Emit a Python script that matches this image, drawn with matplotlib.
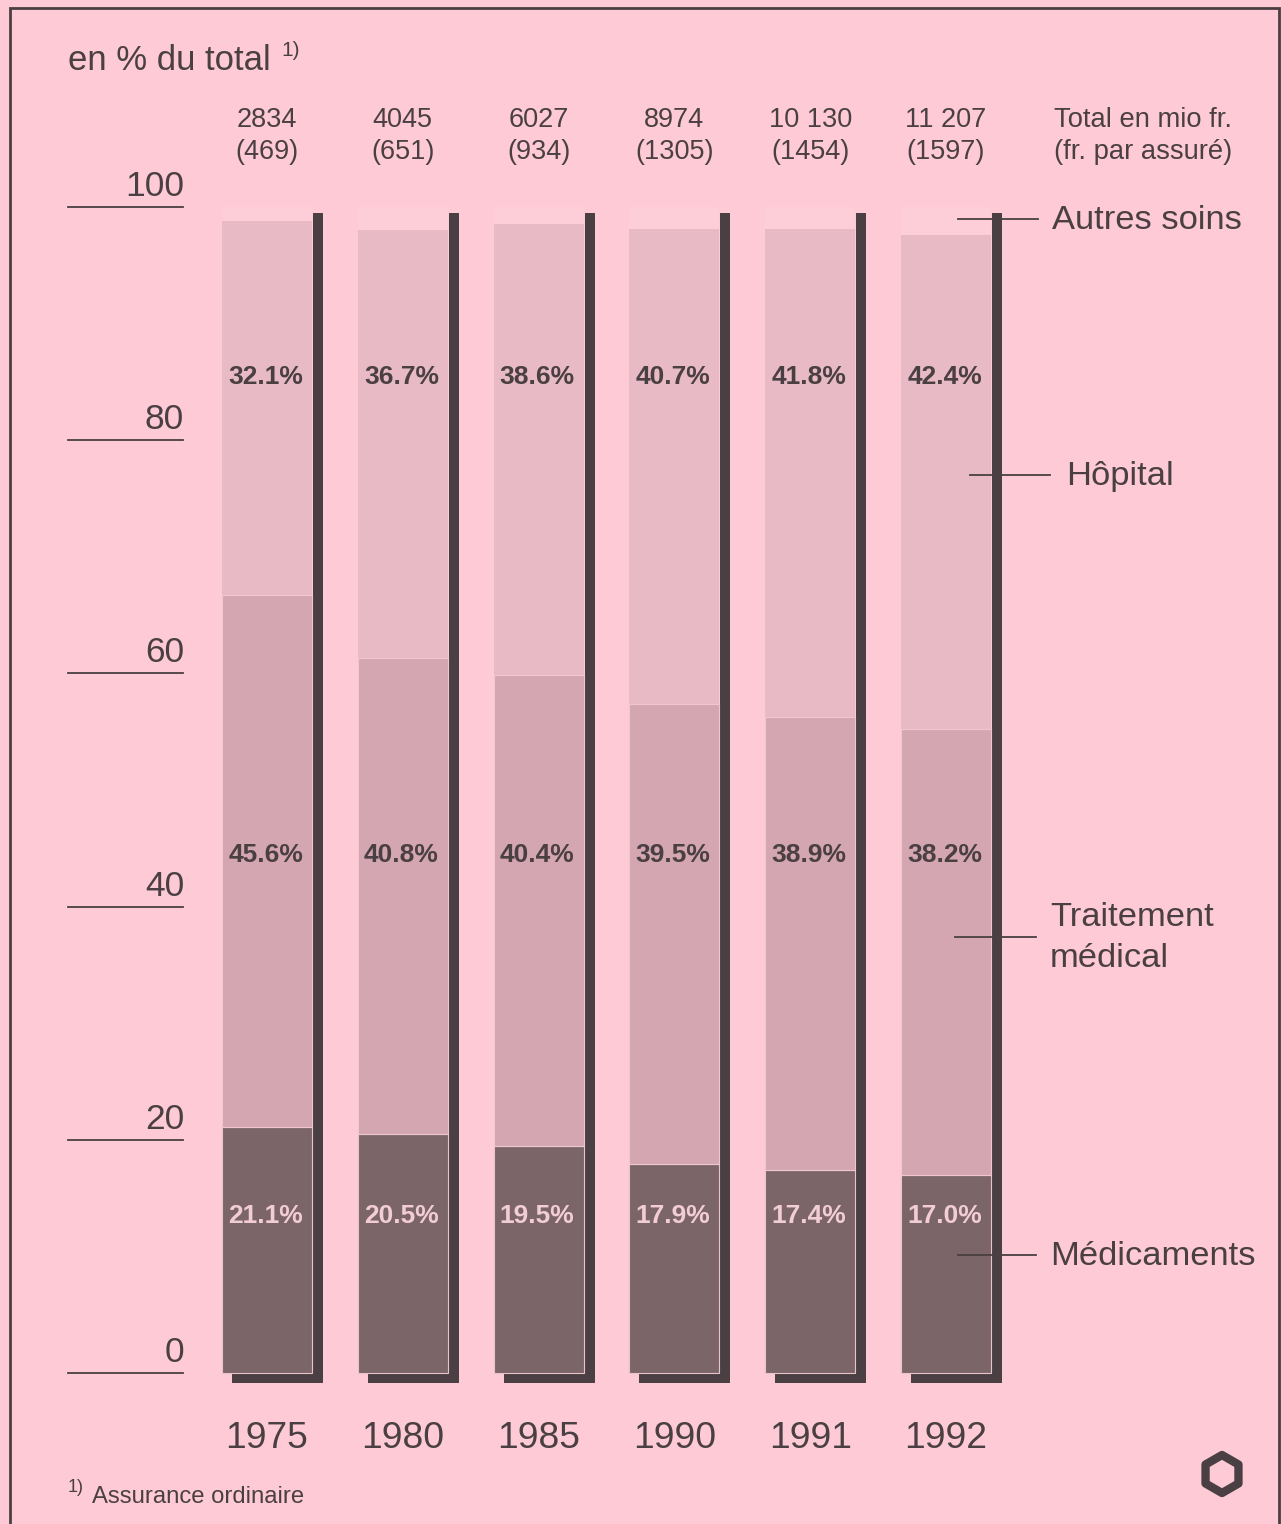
import matplotlib
matplotlib.use("Agg")
import matplotlib.pyplot as plt
from matplotlib.patches import Rectangle, Polygon
import numpy as np

plt.rcParams['font.family'] = ['Liberation Sans', 'DejaVu Sans']

# ---- data ----
years = ["1975", "1980", "1985", "1990", "1991", "1992"]
medicaments = [21.1, 20.5, 19.5, 17.9, 17.4, 17.0]
traitement = [45.6, 40.8, 40.4, 39.5, 38.9, 38.2]
hopital = [32.1, 36.7, 38.6, 40.7, 41.8, 42.4]
autres = [1.2, 2.0, 1.5, 1.9, 1.9, 2.4]
totals = ["2834", "4045", "6027", "8974", "10 130", "11 207"]
per_insured = ["(469)", "(651)", "(934)", "(1305)", "(1454)", "(1597)"]
yticks = [0, 20, 40, 60, 80, 100]
series_names = ["Médicaments", "Traitement\nmédical", "Hôpital", "Autres soins"]

# ---- style ----
BG = "#fdcad5"
C_MED = "#7b6568"
C_TRT = "#d3a6b1"
C_HOP = "#e8bac5"
C_AUT = "#fdced8"
DARK = "#4a3f42"

W, H = 1281, 1524
fig = plt.figure(figsize=(W / 100, H / 100), dpi=100, facecolor=BG)
ax = fig.add_axes([0, 0, 1, 1])
ax.set_facecolor(BG)
ax.axis("off")

# pixel mapping: x index 0 -> 267 px, step 135.8 px ; y 0 -> 1373 px from top, 100 -> 207
sx = 135.8
sy = (1373 - 207) / 100.0
ax.set_xlim(-267 / sx, (W - 267) / sx)
ax.set_ylim(-(H - 1373) / sy, 1373 / sy)

x = list(range(len(years)))
bw = 90 / sx
sh_w = 10 / sx
sh_h = 10 / sy

# shadows
for i in x:
    ax.add_patch(Rectangle((i + bw / 2 + 1 / sx, -sh_h), sh_w, 99.5 + sh_h,
                           facecolor=DARK, edgecolor="none", zorder=1))
    ax.add_patch(Rectangle((i - bw / 2 + 10 / sx, -sh_h), bw + 1 / sx, sh_h,
                           facecolor=DARK, edgecolor="none", zorder=1))

b1 = [m for m in medicaments]
b2 = [m + t for m, t in zip(medicaments, traitement)]
b3 = [m + t + h for m, t, h in zip(medicaments, traitement, hopital)]
ax.bar(x, medicaments, width=bw, color=C_MED, edgecolor="#e9c3cc", linewidth=0.8, zorder=2)
ax.bar(x, traitement, width=bw, bottom=b1, color=C_TRT, edgecolor="#f0c6d0", linewidth=0.8, zorder=2)
ax.bar(x, hopital, width=bw, bottom=b2, color=C_HOP, edgecolor="none", zorder=2)
ax.bar(x, autres, width=bw, bottom=b3, color=C_AUT, edgecolor="none", zorder=2)

# percentage labels
for i in x:
    ax.text(i - 0.01, (1373 - 377) / sy, f"{hopital[i]:.1f}%", ha="center", va="center",
            fontsize=19, fontweight="bold", color=DARK, zorder=3)
    ax.text(i - 0.01, (1373 - 855) / sy, f"{traitement[i]:.1f}%", ha="center", va="center",
            fontsize=19, fontweight="bold", color=DARK, zorder=3)
    ax.text(i - 0.01, (1373 - 1216) / sy, f"{medicaments[i]:.1f}%", ha="center", va="center",
            fontsize=19, fontweight="bold", color="#f3cdd6", zorder=3)
    ax.text(i, (1373 - 120) / sy, totals[i], ha="center", va="center", fontsize=19.5, color=DARK)
    ax.text(i, (1373 - 152) / sy, per_insured[i], ha="center", va="center", fontsize=19.5, color=DARK)
    ax.text(i, (1373 - 1438) / sy, years[i], ha="center", va="center", fontsize=26.8, color=DARK)

ax.text((1054 - 267) / sx, (1373 - 120) / sy, "Total en mio fr.", ha="left", va="center",
        fontsize=19.7, color=DARK)
ax.text((1054 - 267) / sx, (1373 - 152) / sy, "(fr. par assuré)", ha="left", va="center",
        fontsize=19.7, color=DARK)

# y ticks: short lines + labels
for t in yticks:
    ax.plot([(68 - 267) / sx, (183 - 267) / sx], [t, t], color=DARK, lw=1.3)
    ax.text((184 - 267) / sx, t + 1.75, str(t), ha="right", va="center", fontsize=25.5, color=DARK)

# axis title
ax.text((68 - 267) / sx, (1373 - 60) / sy, "en % du total", ha="left", va="center",
        fontsize=25, color=DARK)
ax.text((281 - 267) / sx, (1373 - 50) / sy, "1)", ha="left", va="center", fontsize=15, color=DARK)

# series labels with leader lines
legend_pos = [  # (y_px_line, x0, x1, text_x)
    (1255, 958, 1036, 1050),
    (937, 955, 1036, 1050),
    (475, 970, 1050, 1066),
    (219, 958, 1038, 1052),
]
for name, (yl, x0, x1, tx) in zip(series_names, legend_pos):
    yv = (1373 - yl) / sy
    ax.plot([(x0 - 267) / sx, (x1 - 267) / sx], [yv, yv], color=DARK, lw=1.3, zorder=4)
    ax.text((tx - 267) / sx, yv - 0.1, name, ha="left", va="center", fontsize=24.8,
            color=DARK, linespacing=1.42)

# footnote
ax.text((68 - 267) / sx, (1373 - 1487) / sy, "1)", ha="left", va="center", fontsize=13, color=DARK)
ax.text((92 - 267) / sx, (1373 - 1497) / sy, "Assurance ordinaire", ha="left", va="center",
        fontsize=17.2, color=DARK)

# frame
fig.patches.append(Rectangle((10 / W, -0.01), (1279 - 10) / W, 1.01 - 8 / H,
                             transform=fig.transFigure, fill=False, edgecolor=DARK, lw=2))

# logo
cx, cy = 1222, 1474
ang = np.deg2rad(np.arange(6) * 60 + 90)
pts = [((cx + 19 * np.cos(a) - 267) / sx, (1373 - (cy - 19 * np.sin(a))) / sy) for a in ang]
ax.add_patch(Polygon(pts, closed=True, fill=False, edgecolor=DARK, lw=6, joinstyle="round"))

fig.savefig("out.png", dpi=100, facecolor=BG)
